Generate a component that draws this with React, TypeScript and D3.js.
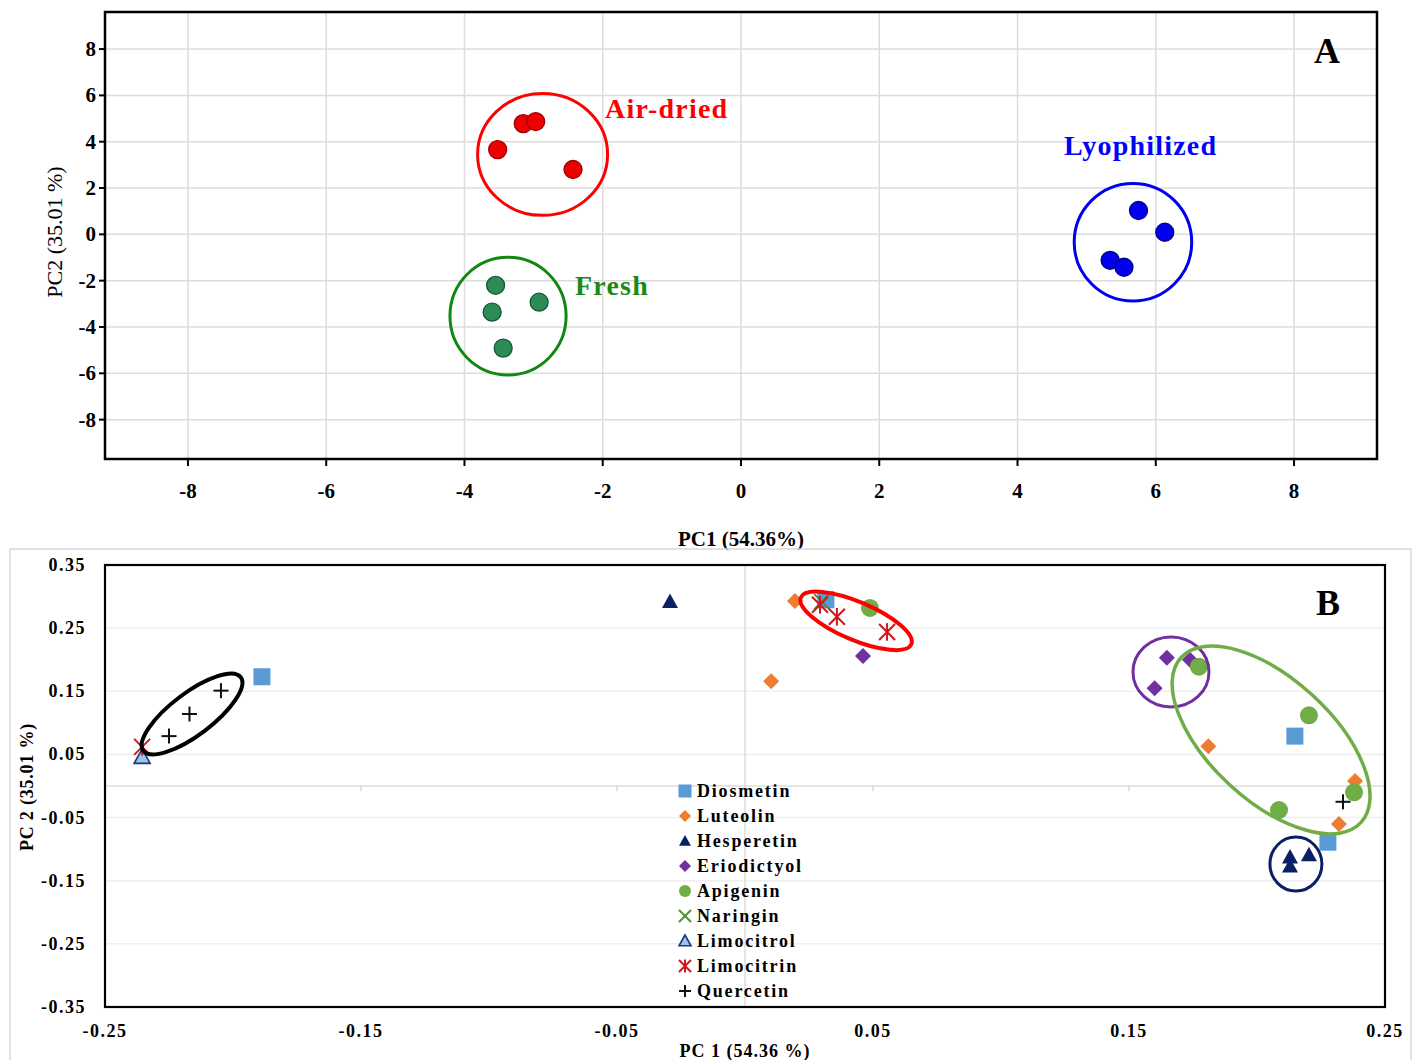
import React from "react";
import * as d3 from "d3";

// ---------- Panel A: sample scores ----------
const A_TICKS = [-8, -6, -4, -2, 0, 2, 4, 6, 8];
const airDried: [number, number][] = [[-3.52, 3.66], [-3.15, 4.78], [-2.97, 4.87], [-2.43, 2.8]];
const fresh: [number, number][] = [[-3.55, -2.2], [-3.6, -3.36], [-2.92, -2.93], [-3.44, -4.91]];
const lyophilized: [number, number][] = [[5.75, 1.03], [6.13, 0.09], [5.34, -1.12], [5.54, -1.42]];

// ---------- Panel B: compound loadings ----------
const B_X_TICKS = [-0.25, -0.15, -0.05, 0.05, 0.15, 0.25];
const B_Y_TICKS = [0.35, 0.25, 0.15, 0.05, -0.05, -0.15, -0.25, -0.35];
const diosmetin: [number, number][] = [[-0.1887, 0.173], [0.0316, 0.295], [0.2148, 0.079], [0.2277, -0.089]];
const luteolin: [number, number][] = [[0.0195, 0.293], [0.0102, 0.166], [0.181, 0.063], [0.2383, 0.008], [0.232, -0.06]];
const hesperetin: [number, number][] = [[-0.0293, 0.292], [0.2129, -0.1125], [0.2129, -0.127], [0.2203, -0.109]];
const eriodictyol: [number, number][] = [[0.0461, 0.206], [0.1648, 0.203], [0.1738, 0.2], [0.16, 0.155]];
const apigenin: [number, number][] = [[0.0488, 0.282], [0.1773, 0.189], [0.2203, 0.112], [0.2086, -0.038], [0.2379, -0.01]];
const naringin: [number, number][] = [[0.03, 0.292]];
const limocitrol: [number, number][] = [[-0.2355, 0.046]];
const limocitrin: [number, number][] = [[-0.2355, 0.062], [0.0293, 0.287], [0.0359, 0.268], [0.0555, 0.244]];
const quercetin: [number, number][] = [[-0.225, 0.079], [-0.217, 0.114], [-0.2047, 0.151], [0.2336, -0.025]];

const FONT = "'Liberation Serif', 'Times New Roman', serif";

type Kind = "square" | "diamond" | "triangle" | "circle" | "x" | "asterisk" | "plus" | "openTriangle";

const seriesB = [
  { name: "Diosmetin", data: diosmetin, kind: "square" as Kind, color: "#5b9bd5" },
  { name: "Luteolin", data: luteolin, kind: "diamond" as Kind, color: "#ed7d31" },
  { name: "Hesperetin", data: hesperetin, kind: "triangle" as Kind, color: "#0b1f63" },
  { name: "Eriodictyol", data: eriodictyol, kind: "diamond" as Kind, color: "#7030a0" },
  { name: "Apigenin", data: apigenin, kind: "circle" as Kind, color: "#70ad47" },
  { name: "Naringin", data: naringin, kind: "x" as Kind, color: "#4f8f2f" },
  { name: "Limocitrol", data: limocitrol, kind: "openTriangle" as Kind, color: "#9dc3e6" },
  { name: "Limocitrin", data: limocitrin, kind: "asterisk" as Kind, color: "#d0151c" },
  { name: "Quercetin", data: quercetin, kind: "plus" as Kind, color: "#111111" },
];

const MARK_SIZE: Record<Kind, number> = {
  square: 17, diamond: 16, triangle: 16, openTriangle: 16, circle: 18, x: 15, asterisk: 16, plus: 15,
};

function Marker({ kind, x, y, s, color }: { kind: Kind; x: number; y: number; s: number; color: string }) {
  const h = s / 2;
  switch (kind) {
    case "square":
      return <rect x={x - h} y={y - h} width={s} height={s} fill={color} />;
    case "diamond":
      return <path d={`M${x},${y - h}L${x + h},${y}L${x},${y + h}L${x - h},${y}Z`} fill={color} />;
    case "triangle":
      return <path d={`M${x},${y - h}L${x + h},${y + h * 0.8}L${x - h},${y + h * 0.8}Z`} fill={color} />;
    case "openTriangle":
      return (
        <path d={`M${x},${y - h}L${x + h},${y + h * 0.8}L${x - h},${y + h * 0.8}Z`} fill={color} stroke="#1f3388" strokeWidth={1.6} />
      );
    case "circle":
      return <circle cx={x} cy={y} r={h} fill={color} />;
    case "x":
      return (
        <g stroke={color} strokeWidth={2}>
          <line x1={x - h} y1={y - h} x2={x + h} y2={y + h} />
          <line x1={x - h} y1={y + h} x2={x + h} y2={y - h} />
        </g>
      );
    case "asterisk":
      return (
        <g stroke={color} strokeWidth={2}>
          <line x1={x - h} y1={y - h} x2={x + h} y2={y + h} />
          <line x1={x - h} y1={y + h} x2={x + h} y2={y - h} />
          <line x1={x} y1={y - h * 1.1} x2={x} y2={y + h * 1.1} />
        </g>
      );
    case "plus":
      return (
        <g stroke={color} strokeWidth={2}>
          <line x1={x - h} y1={y} x2={x + h} y2={y} />
          <line x1={x} y1={y - h} x2={x} y2={y + h} />
        </g>
      );
  }
  return null;
}

export default function App() {
  // Panel A geometry
  const ax = d3.scaleLinear().domain([-9.2, 9.2]).range([105, 1377]);
  const ay = d3.scaleLinear().domain([-9.7, 9.6]).range([459, 12]);

  const groupsA = [
    { label: "Air-dried", pts: airDried, fill: "#ee0000", stroke: "#9a0000", ring: "#ff0000", text: "#ff0000",
      c: [-2.87, 3.45], r: [0.94, 2.63], lx: 605, ly: 118 },
    { label: "Fresh", pts: fresh, fill: "#2e8b57", stroke: "#145a30", ring: "#118811", text: "#1a8a1a",
      c: [-3.37, -3.53], r: [0.84, 2.54], lx: 575, ly: 295 },
    { label: "Lyophilized", pts: lyophilized, fill: "#0000ee", stroke: "#000088", ring: "#0000ee", text: "#0000ff",
      c: [5.67, -0.34], r: [0.85, 2.54], lx: 1064, ly: 155 },
  ];

  // Panel B geometry
  const bx = d3.scaleLinear().domain([-0.25, 0.25]).range([105, 1385]);
  const by = d3.scaleLinear().domain([-0.35, 0.35]).range([1007, 565]);

  // group outlines: centre in data units, semi-axes in px, rotation in degrees
  const ellipsesB = [
    { c: [-0.216, 0.114], rx: 61, ry: 21, rot: -37, color: "#000000", w: 4 },
    { c: [0.0434, 0.2615], rx: 60, ry: 19, rot: 23, color: "#ff0000", w: 4 },
    { c: [0.1664, 0.1807], rx: 38, ry: 35, rot: 0, color: "#7030a0", w: 3 },
    { c: [0.2055, 0.0729], rx: 122, ry: 61, rot: 42.5, color: "#70ad47", w: 3.5 },
    { c: [0.2152, -0.1236], rx: 26, ry: 27, rot: 0, color: "#0b1f63", w: 3 },
  ];

  const bGrid = [0.25, 0.15, 0.05, -0.05, -0.15, -0.25];

  return (
    <svg width={1413} height={1060} style={{ position: "absolute", left: 0, top: 0, background: "#fff" }} fontFamily={FONT}>
      <rect x={0} y={0} width={1413} height={1060} fill="#fff" />

      {/* ===== Panel A ===== */}
      <g>
        {A_TICKS.map((t) => (
          <line key={"gx" + t} x1={ax(t)} x2={ax(t)} y1={12} y2={459} stroke="#dcdcdc" strokeWidth={1.5} />
        ))}
        {A_TICKS.map((t) => (
          <line key={"gy" + t} x1={105} x2={1377} y1={ay(t)} y2={ay(t)} stroke="#dcdcdc" strokeWidth={1.5} />
        ))}
        <rect x={105} y={12} width={1272} height={447} fill="none" stroke="#000" strokeWidth={2.5} />
        {A_TICKS.map((t) => (
          <g key={"tx" + t}>
            <line x1={ax(t)} x2={ax(t)} y1={459} y2={466} stroke="#000" strokeWidth={2} />
            <text x={ax(t)} y={498} textAnchor="middle" fontSize={21} fontWeight="bold">{t}</text>
          </g>
        ))}
        {A_TICKS.map((t) => (
          <g key={"ty" + t}>
            <line x1={99} x2={105} y1={ay(t)} y2={ay(t)} stroke="#000" strokeWidth={2} />
            <text x={96} y={ay(t) + 7} textAnchor="end" fontSize={21} fontWeight="bold">{t}</text>
          </g>
        ))}
        <text transform="translate(62,232) rotate(-90)" textAnchor="middle" fontSize={22}>PC2 (35.01 %)</text>
        <text x={741} y={546} textAnchor="middle" fontSize={21} fontWeight="bold">PC1 (54.36%)</text>

        {groupsA.map((g) => (
          <g key={g.label}>
            <ellipse cx={ax(g.c[0])} cy={ay(g.c[1])}
              rx={ax(g.c[0] + g.r[0]) - ax(g.c[0])} ry={ay(g.c[1]) - ay(g.c[1] + g.r[1])}
              fill="none" stroke={g.ring} strokeWidth={3} />
            {g.pts.map((p, i) => (
              <circle key={i} cx={ax(p[0])} cy={ay(p[1])} r={9} fill={g.fill} stroke={g.stroke} strokeWidth={1.3} />
            ))}
            <text x={g.lx} y={g.ly} fontSize={28} fontWeight="bold" letterSpacing={1.2} fill={g.text}>{g.label}</text>
          </g>
        ))}
        <text x={1314} y={63} fontSize={36} fontWeight="bold">A</text>
      </g>

      {/* ===== Panel B ===== */}
      <g>
        <rect x={10} y={549} width={1401} height={520} fill="none" stroke="#d9d9d9" strokeWidth={1.5} />
        {bGrid.map((t) => (
          <line key={"bg" + t} x1={105} x2={1385} y1={by(t)} y2={by(t)} stroke="#efefef" strokeWidth={1.5} />
        ))}
        <line x1={105} x2={1385} y1={by(0)} y2={by(0)} stroke="#dcdcdc" strokeWidth={1.5} />
        <line x1={bx(0)} x2={bx(0)} y1={565} y2={1007} stroke="#dcdcdc" strokeWidth={1.5} />
        {[-0.15, -0.05, 0.05, 0.15].map((t) => (
          <line key={"zt" + t} x1={bx(t)} x2={bx(t)} y1={by(0)} y2={by(0) + 5} stroke="#d0d0d0" strokeWidth={1.2} />
        ))}
        <rect x={105} y={565} width={1280} height={442} fill="none" stroke="#000" strokeWidth={2.2} />
        {B_Y_TICKS.map((t) => (
          <text key={"by" + t} x={86} y={by(t) + 6} textAnchor="end" fontSize={18} fontWeight="bold" letterSpacing={1.5}>
            {t.toFixed(2)}
          </text>
        ))}
        {B_X_TICKS.map((t) => (
          <text key={"bx" + t} x={bx(t)} y={1037} textAnchor="middle" fontSize={18} fontWeight="bold" letterSpacing={1.5}>
            {t.toFixed(2)}
          </text>
        ))}
        <text transform="translate(33,787) rotate(-90)" textAnchor="middle" fontSize={18} fontWeight="bold" letterSpacing={0.8}>
          PC 2 (35.01 %)
        </text>
        <text x={745} y={1057} textAnchor="middle" fontSize={18} fontWeight="bold" letterSpacing={1}>PC 1 (54.36 %)</text>

        {seriesB.map((s) => (
          <g key={s.name}>
            {s.data.map((p, i) => (
              <Marker key={i} kind={s.kind} x={bx(p[0])} y={by(p[1])} s={MARK_SIZE[s.kind]} color={s.color} />
            ))}
          </g>
        ))}

        {ellipsesB.map((e, i) => (
          <ellipse key={i} cx={0} cy={0} rx={e.rx} ry={e.ry}
            transform={`translate(${bx(e.c[0])},${by(e.c[1])}) rotate(${e.rot})`}
            fill="none" stroke={e.color} strokeWidth={e.w} />
        ))}

        {/* legend */}
        {seriesB.map((s, i) => {
          const cy = 791 + i * 25;
          return (
            <g key={"lg" + s.name}>
              <Marker kind={s.kind} x={685} y={cy} s={s.kind === "square" ? 13 : 12} color={s.color} />
              <text x={697} y={cy + 6} fontSize={18} fontWeight="bold" letterSpacing={1.8}>{s.name}</text>
            </g>
          );
        })}
        <text x={1316} y={615} fontSize={36} fontWeight="bold">B</text>
      </g>
    </svg>
  );
}
